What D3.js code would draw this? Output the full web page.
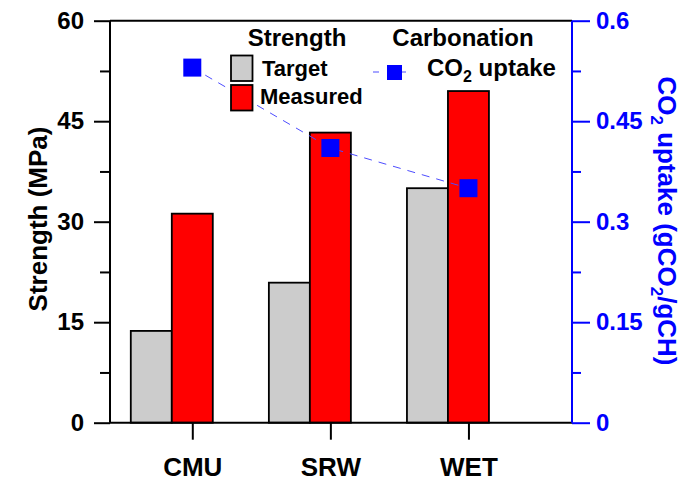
<!DOCTYPE html>
<html><head><meta charset="utf-8">
<script src="https://cdn.jsdelivr.net/npm/d3@7/dist/d3.min.js"></script>
<style>body{margin:0;background:#fff}svg{display:block}text{font-family:Arial,"Liberation Sans",sans-serif;font-weight:bold}</style>
</head><body><svg id="c" width="694" height="482"></svg>
<script>
const categories = ["CMU", "SRW", "WET"];
const targetStrength = [13.7, 20.9, 35.0];
const measuredStrength = [31.2, 43.3, 49.5];
const co2Uptake = [0.53, 0.41, 0.35];
const leftTicks = [0, 15, 30, 45, 60];
const rightTicks = [0, 0.15, 0.3, 0.45, 0.6];
const rightTickLabels = ["0", "0.15", "0.3", "0.45", "0.6"];

const svg = d3.select("#c");
const L = 110, R = 572, T = 20.7, B = 422.7;
const x = d3.scaleLinear().domain([-0.596, 2.75]).range([L, R]);
const y = d3.scaleLinear().domain([0, 60]).range([B, T]);
const y2 = d3.scaleLinear().domain([0, 0.6]).range([B, T]);
const bw = 41;
const blue = "#0000ff";

// bars: measured bar centred on the category tick, target bar to its left
const g = svg.append("g");
categories.forEach((c, i) => {
  g.append("rect").attr("x", x(i) - 1.5 * bw).attr("y", y(targetStrength[i]))
    .attr("width", bw).attr("height", y(0) - y(targetStrength[i]))
    .attr("fill", "#cccccc").attr("stroke", "#000").attr("stroke-width", 1.8);
  g.append("rect").attr("x", x(i) - 0.5 * bw).attr("y", y(measuredStrength[i]))
    .attr("width", bw).attr("height", y(0) - y(measuredStrength[i]))
    .attr("fill", "#ff0000").attr("stroke", "#000").attr("stroke-width", 1.8);
});

// co2 line + markers
svg.append("path").datum(co2Uptake)
  .attr("d", d3.line().x((d, i) => x(i)).y(d => y2(d)))
  .attr("fill", "none").attr("stroke", "#4d4dff").attr("stroke-width", 1).attr("stroke-dasharray", "8,7");
svg.selectAll(".mk").data(co2Uptake).enter().append("rect")
  .attr("x", (d, i) => x(i) - 9).attr("y", d => y2(d) - 9).attr("width", 18).attr("height", 18)
  .attr("fill", blue);

// frame
svg.append("line").attr("x1", L).attr("x2", R).attr("y1", T).attr("y2", T).attr("stroke", "#000").attr("stroke-width", 2);

// left axis
const la = svg.append("g").attr("transform", `translate(${L},0)`)
  .call(d3.axisLeft(y).tickValues(leftTicks).tickSize(16).tickPadding(10).tickFormat(d3.format("d")));
la.selectAll(".tick line").attr("stroke-width", 2);
la.select(".domain").attr("stroke-width", 2).attr("d", `M0,${T}V${B}`);
la.selectAll("text").attr("font-size", 24).attr("font-weight", "bold").attr("fill", "#000");
svg.append("g").attr("transform", `translate(${L},0)`)
  .call(d3.axisLeft(y).tickValues(d3.range(7.5, 60, 15)).tickSize(10).tickFormat(""))
  .call(s => { s.select(".domain").remove(); s.selectAll("line").attr("stroke-width", 2); });

// bottom axis
const ba = svg.append("g").attr("transform", `translate(0,${B})`)
  .call(d3.axisBottom(x).tickValues([0, 1, 2]).tickSize(17).tickPadding(18).tickFormat(i => categories[i]));
ba.select(".domain").attr("stroke-width", 2).attr("d", `M${L},0H${R}`);
ba.selectAll(".tick line").attr("stroke-width", 2);
ba.selectAll("text").attr("font-size", 26).attr("fill", "#000");

// right axis
const ra = svg.append("g").attr("transform", `translate(${R},0)`)
  .call(d3.axisRight(y2).tickValues(rightTicks).tickSize(18).tickPadding(6).tickFormat((d, i) => rightTickLabels[i]));
ra.select(".domain").attr("stroke", blue).attr("stroke-width", 2).attr("d", `M0,${T}V${B}`);
ra.selectAll(".tick line").attr("stroke", blue).attr("stroke-width", 2);
ra.selectAll("text").attr("font-size", 24).attr("fill", blue);
svg.append("g").attr("transform", `translate(${R},0)`)
  .call(d3.axisRight(y2).tickValues(d3.range(0.075, 0.6, 0.15)).tickSize(9).tickFormat(""))
  .call(s => { s.select(".domain").remove(); s.selectAll("line").attr("stroke", blue).attr("stroke-width", 2); });

// axis titles
svg.append("text").attr("transform", `translate(47,219) rotate(-90)`).attr("text-anchor", "middle")
  .attr("font-size", 26).attr("fill", "#000").text("Strength (MPa)");
const rt = svg.append("text").attr("transform", `translate(658,221) rotate(90)`).attr("text-anchor", "middle")
  .attr("font-size", 26).attr("fill", blue);
rt.append("tspan").text("CO");
rt.append("tspan").attr("font-size", 17).attr("dy", 7).text("2");
rt.append("tspan").attr("dy", -7).text(" uptake (gCO");
rt.append("tspan").attr("font-size", 17).attr("dy", 7).text("2");
rt.append("tspan").attr("dy", -7).text("/gCH)");

// legend
svg.append("text").attr("x", 297).attr("y", 46).attr("text-anchor", "middle").attr("font-size", 24).text("Strength");
svg.append("text").attr("x", 463).attr("y", 46).attr("text-anchor", "middle").attr("font-size", 24).text("Carbonation");
svg.append("rect").attr("x", 231).attr("y", 55.5).attr("width", 21.5).attr("height", 25.5)
  .attr("fill", "#cccccc").attr("stroke", "#000").attr("stroke-width", 1.8);
svg.append("rect").attr("x", 231).attr("y", 85).attr("width", 21.5).attr("height", 25.5)
  .attr("fill", "#ff0000").attr("stroke", "#000").attr("stroke-width", 1.8);
svg.append("text").attr("x", 262).attr("y", 76).attr("font-size", 22).text("Target");
svg.append("text").attr("x", 260).attr("y", 104).attr("font-size", 22).text("Measured");
svg.append("line").attr("x1", 373).attr("x2", 414).attr("y1", 72).attr("y2", 72)
  .attr("stroke", "#4d4dff").attr("stroke-width", 1).attr("stroke-dasharray", "6,21");
svg.append("rect").attr("x", 387).attr("y", 65).attr("width", 15).attr("height", 15).attr("fill", blue);
const lt = svg.append("text").attr("x", 427).attr("y", 76).attr("font-size", 24);
lt.append("tspan").text("CO");
lt.append("tspan").attr("font-size", 16).attr("dy", 6).text("2");
lt.append("tspan").attr("dy", -6).text(" uptake");
</script></body></html>
